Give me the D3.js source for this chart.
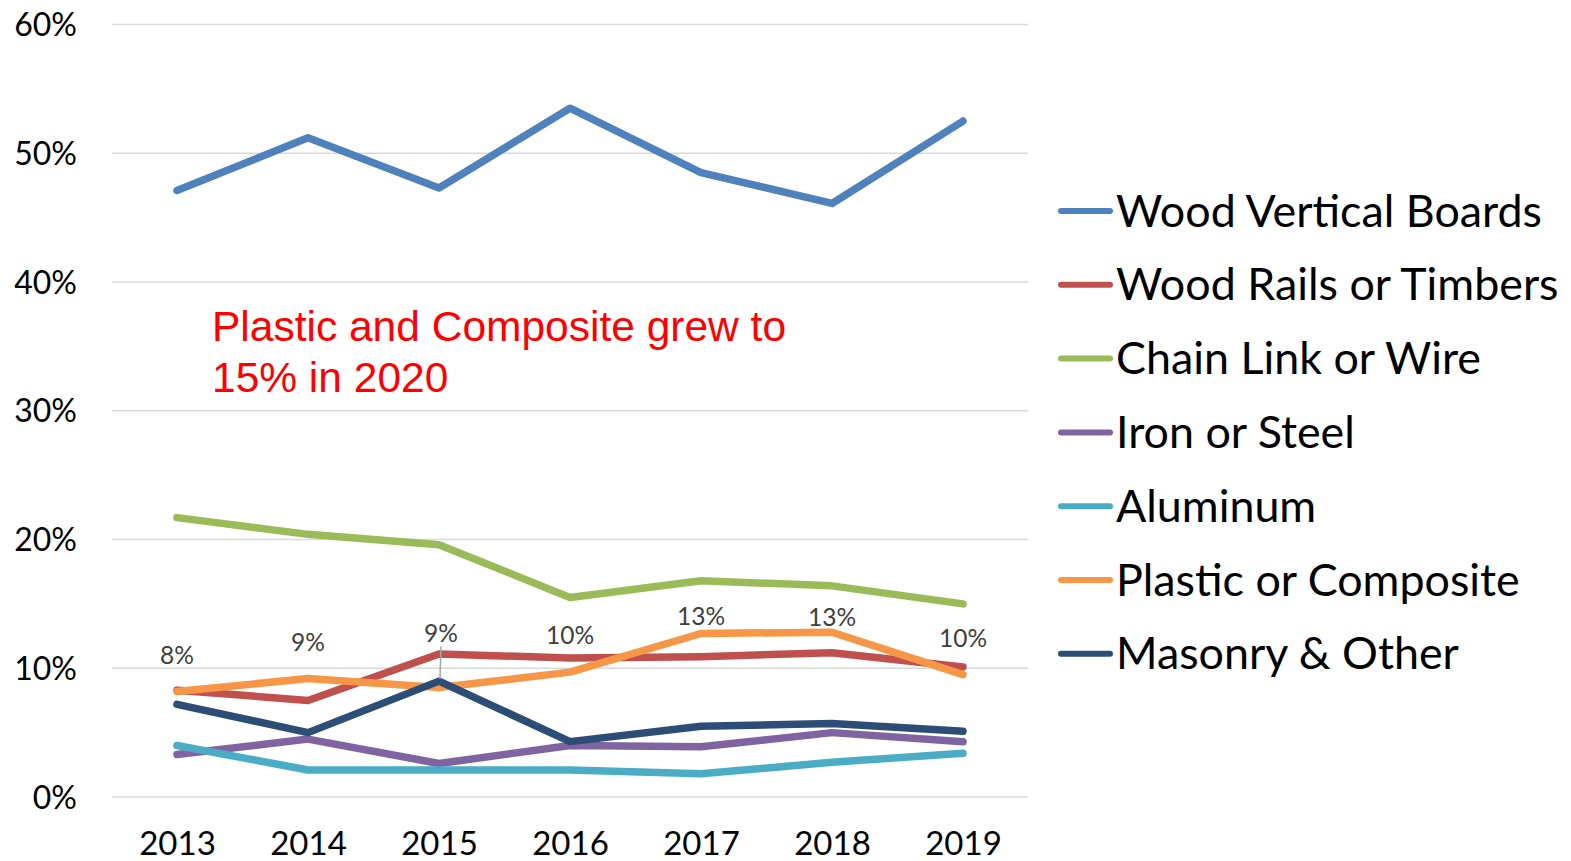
<!DOCTYPE html>
<html><head><meta charset="utf-8">
<script src="https://cdn.jsdelivr.net/npm/d3@7"></script>
<style>body{margin:0;background:#fff}svg{display:block}</style>
</head><body>
<svg id="c" width="1571" height="861"></svg>
<script>
const years = ["2013","2014","2015","2016","2017","2018","2019"];
const seriesNames = ["Wood Vertical Boards","Wood Rails or Timbers","Chain Link or Wire","Iron or Steel","Aluminum","Plastic or Composite","Masonry & Other"];
const woodVertical = [47.1, 51.2, 47.3, 53.5, 48.5, 46.1, 52.5];
const woodRails    = [8.3, 7.5, 11.1, 10.8, 10.9, 11.2, 10.1];
const chainLink    = [21.7, 20.4, 19.6, 15.5, 16.8, 16.4, 15.0];
const ironSteel    = [3.3, 4.5, 2.6, 4.0, 3.9, 5.0, 4.3];
const aluminum     = [4.0, 2.1, 2.1, 2.1, 1.8, 2.7, 3.4];
const plastic      = [8.2, 9.2, 8.5, 9.7, 12.7, 12.8, 9.5];
const masonry      = [7.2, 5.0, 9.0, 4.3, 5.5, 5.7, 5.1];
const plasticLabels = ["8%","9%","9%","10%","13%","13%","10%"];
const yTicks = [0, 10, 20, 30, 40, 50, 60];
const annotation = ["Plastic and Composite grew to", "15% in 2020"];

const colors = ["#4F81BD","#C0504D","#9BBB59","#8064A2","#4BACC6","#F79646","#2C4D75"];
const allSeries = [woodVertical, woodRails, chainLink, ironSteel, aluminum, plastic, masonry];
const labelDy = [-36, -36, -54, -37, -17, -15, -36];

const svg = d3.select("#c");
const x = d3.scalePoint().domain(years).range([177, 963]);
const y = d3.scaleLinear().domain([0, 60]).range([797, 24.5]);

// gridlines
svg.append("g").selectAll("line").data(yTicks).join("line")
  .attr("x1", 112).attr("x2", 1028)
  .attr("y1", d => y(d)).attr("y2", d => y(d))
  .attr("stroke", "#d9d9d9").attr("stroke-width", 1.5);

// y axis labels
const yAxis = d3.axisLeft(y).tickValues(yTicks).tickFormat(d => d + "%").tickSize(0).tickPadding(0);
const gy = svg.append("g").attr("transform", "translate(77,0)").call(yAxis);
gy.select(".domain").remove();
gy.selectAll("text").attr("font-family", "Lato, sans-serif").attr("font-size", 32).attr("fill", "#000").attr("dy", "0.35em");

// x axis labels
const xAxis = d3.axisBottom(x).tickSize(0).tickPadding(0);
const gx = svg.append("g").attr("transform", "translate(0,843)").call(xAxis);
gx.select(".domain").remove();
gx.selectAll("text").attr("font-family", "Lato, sans-serif").attr("font-size", 33).attr("fill", "#000").attr("dy", "0.35em");

// lines
const line = d3.line().x((d, i) => x(years[i])).y(d => y(d));
svg.append("g").selectAll("path").data(allSeries).join("path")
  .attr("d", d => line(d))
  .attr("fill", "none")
  .attr("stroke", (d, i) => colors[i])
  .attr("stroke-width", 7.5)
  .attr("stroke-linejoin", "round")
  .attr("stroke-linecap", "round");

// leader line for 2015 label
svg.append("line")
  .attr("x1", x("2015") + 2).attr("x2", x("2015") + 1)
  .attr("y1", y(plastic[2]) + labelDy[2] + 13).attr("y2", y(masonry[2]) - 2)
  .attr("stroke", "#a6a6a6").attr("stroke-width", 1.5);

// data labels
svg.append("g").selectAll("text").data(plasticLabels).join("text")
  .attr("x", (d, i) => x(years[i]) + (i === 2 ? 2 : 0))
  .attr("y", (d, i) => y(plastic[i]) + labelDy[i])
  .attr("text-anchor", "middle").attr("dy", "0.35em")
  .attr("font-family", "Lato, sans-serif").attr("font-size", 24.5)
  .attr("fill", "#404040")
  .text(d => d);

// annotation
svg.append("text")
  .attr("font-family", "Liberation Sans, Arial, sans-serif").attr("font-size", 42.5)
  .attr("fill", "#FF0000")
  .selectAll("tspan").data(annotation).join("tspan")
  .attr("x", 212).attr("y", (d, i) => 341 + i * 51)
  .text(d => d);

// legend
const lg = svg.append("g").selectAll("g").data(seriesNames).join("g")
  .attr("transform", (d, i) => `translate(1058,${211 + i * 73.8})`);
lg.append("line").attr("x1", 3).attr("x2", 52).attr("y1", 0).attr("y2", 0)
  .attr("stroke", (d, i) => colors[i]).attr("stroke-width", 6).attr("stroke-linecap", "round");
lg.append("text").attr("x", 58).attr("dy", "0.35em")
  .attr("font-family", "Lato, sans-serif").attr("font-size", 44.8)
  .attr("fill", "#000").text(d => d);
</script>
</body></html>
